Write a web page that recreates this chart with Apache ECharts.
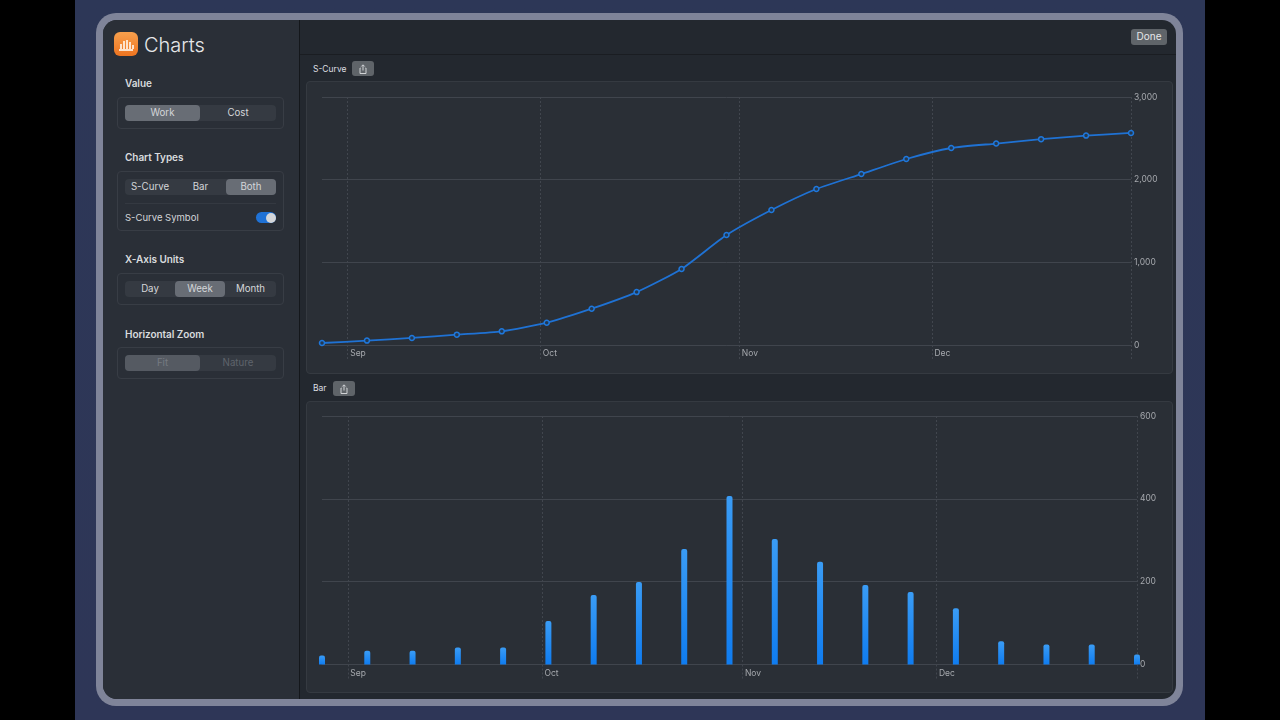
<!DOCTYPE html>
<html lang="en">
<head>
<meta charset="utf-8"/>
<title>Charts</title>
<script src="https://cdn.jsdelivr.net/npm/echarts@6/dist/echarts.min.js"></script>
<style>
  html, body { margin: 0; width: 1280px; height: 720px; overflow: hidden; background: #000; font-family: Inter, "Noto Sans", sans-serif; }
  .abs, .lbl, .box, .seg, .on, .txt { position: absolute; box-sizing: border-box; }
  #bg { left: 75px; top: 0; width: 1130px; height: 720px; background: linear-gradient(180deg, #2d3757 0%, #2e3657 100%); }
  #frame { left: 96px; top: 13px; width: 1087px; height: 693px; border-radius: 20px; background: #7f8499; }
  #win { left: 103px; top: 20px; width: 1073px; height: 679px; border-radius: 14px; background: #23282f; overflow: hidden; }
  #side { left: 0; top: 0; width: 197px; height: 679px; background: #2a2f37; border-right: 1px solid #14171b; }
  #head { left: 197px; top: 33.5px; width: 876px; height: 1px; background: #1a1d22; }
  .lbl { color: #d9dbde; font-size: 10px; font-weight: 600; line-height: 14px; letter-spacing: -0.05px; }
  .box { border: 1px solid #383d45; border-radius: 4px; }
  .seg { background: #353a42; border-radius: 4px; height: 16px; }
  .on { background: #686d75; border-radius: 4px; top: 0; height: 16px; }
  .txt { color: #d4d6d9; font-size: 9.7px; line-height: 15px; text-align: center; top: 0; height: 16px; }
  .dim { color: #5f646c; }
  .card { left: 203px; width: 867px; background: #2a2f36; border: 1px solid #353a41; border-radius: 4px; }
  .btn { background: #5f6469; border-radius: 3px; }
  .cap { color: #dcdee0; font-size: 8.5px; line-height: 12px; }
  #chart { position: absolute; left: 0; top: 0; width: 1280px; height: 720px; }
</style>
</head>
<body>
<div class="abs" id="bg"></div>
<div class="abs" id="frame"></div>
<div class="abs" id="win">
  <div class="abs" id="side">
    <div class="abs" style="left:11px;top:12px;width:24px;height:24px;border-radius:6px;background:linear-gradient(180deg,#f7a04d,#ee7420)">
      <svg width="24" height="24"><path d="M5 18h14M7 12v5M10 9v8M13 8v9M16 10v7M19 13v4" stroke="#fde3cc" stroke-width="2" fill="none"/></svg>
    </div>
    <div class="abs" style="left:41px;top:11px;color:#e6e7e9;font-size:20px;font-weight:300;line-height:28px">Charts</div>

    <div class="lbl" style="left:22px;top:56px">Value</div>
    <div class="box" style="left:14px;top:77px;width:167px;height:32px"></div>
    <div class="seg" style="left:22px;top:84.5px;width:151px">
      <div class="on" style="left:0;width:75px"></div>
      <div class="txt" style="left:0;width:75px">Work</div>
      <div class="txt" style="left:75px;width:76px">Cost</div>
    </div>

    <div class="lbl" style="left:22px;top:130px">Chart Types</div>
    <div class="box" style="left:14px;top:151px;width:167px;height:60px"></div>
    <div class="seg" style="left:22px;top:158.5px;width:151px">
      <div class="on" style="left:101px;width:50px"></div>
      <div class="txt" style="left:0;width:50px">S-Curve</div>
      <div class="txt" style="left:50px;width:51px">Bar</div>
      <div class="txt" style="left:101px;width:50px">Both</div>
    </div>
    <div class="abs" style="left:22px;top:183px;width:151px;height:1px;background:#343941"></div>
    <div class="txt" style="left:22px;top:190px;text-align:left;white-space:nowrap;font-size:9.5px">S-Curve Symbol</div>
    <div class="abs" style="left:153px;top:192px;width:20px;height:11px;border-radius:6px;background:#1f72d6"></div>
    <div class="abs" style="left:163px;top:192.5px;width:10px;height:10px;border-radius:5px;background:#d4d6d9"></div>

    <div class="lbl" style="left:22px;top:232px">X-Axis Units</div>
    <div class="box" style="left:14px;top:253px;width:167px;height:32px"></div>
    <div class="seg" style="left:22px;top:260.5px;width:151px">
      <div class="on" style="left:50px;width:50px"></div>
      <div class="txt" style="left:0;width:50px">Day</div>
      <div class="txt" style="left:50px;width:50px">Week</div>
      <div class="txt" style="left:100px;width:51px">Month</div>
    </div>

    <div class="lbl" style="left:22px;top:307px">Horizontal Zoom</div>
    <div class="box" style="left:14px;top:327px;width:167px;height:32px"></div>
    <div class="seg" style="left:22px;top:335px;width:151px">
      <div class="on" style="left:0;width:75px;background:#555a62"></div>
      <div class="txt dim" style="left:0;width:75px;color:#767b82">Fit</div>
      <div class="txt dim" style="left:75px;width:76px">Nature</div>
    </div>
  </div>
  <div class="abs" id="head"></div>
  <div class="abs btn" style="left:1028px;top:9px;width:36px;height:15.5px;color:#e6e7e9;font-size:10px;line-height:15.5px;text-align:center">Done</div>

  <div class="abs cap" style="left:210px;top:43px">S-Curve</div>
  <div class="abs btn" style="left:249px;top:41px;width:22px;height:15px">
    <svg width="22" height="15"><path d="M8.5 6H8v5.5h6V6h-.5M11 8.5V3M9.3 4.5L11 2.8l1.7 1.7" stroke="#d0d2d5" fill="none"/></svg>
  </div>
  <div class="abs card" style="top:61px;height:293px"></div>

  <div class="abs cap" style="left:210px;top:362px">Bar</div>
  <div class="abs btn" style="left:230px;top:360.5px;width:22px;height:15.5px">
    <svg width="22" height="15"><path d="M8.5 6H8v5.5h6V6h-.5M11 8.5V3M9.3 4.5L11 2.8l1.7 1.7" stroke="#d0d2d5" fill="none"/></svg>
  </div>
  <div class="abs card" style="top:381px;height:292px"></div>
</div>
<div id="chart"></div>
<script>
  var weekDates = ['2021-08-28', '2021-09-04', '2021-09-11', '2021-09-18', '2021-09-25', '2021-10-02', '2021-10-09',
    '2021-10-16', '2021-10-23', '2021-10-30', '2021-11-06', '2021-11-13', '2021-11-20', '2021-11-27', '2021-12-04',
    '2021-12-11', '2021-12-18', '2021-12-25', '2022-01-01'];
  var curveValues = [24, 53, 85, 125, 165, 270, 439, 640, 920, 1330, 1633, 1887, 2068, 2250, 2383, 2437, 2490, 2533, 2565];
  var barValues = [22, 33, 33, 41, 41, 105, 168, 199, 279, 407, 303, 248, 192, 175, 136, 56, 48, 48, 24];
  var monthLines = ['2021-09-01', '2021-10-01', '2021-11-01', '2021-12-01', '2022-01-01'];
  var monthLabels = ['2021-09-01', '2021-10-01', '2021-11-01', '2021-12-01'];
  var monthNames = ['Sep', 'Oct', 'Nov', 'Dec'];
  var curveTicks = [0, 1000, 2000, 3000];
  var barTicks = [0, 200, 400, 600];

  var gridLine = '#40454d';
  var dashLine = '#41464e';
  var labelColor = '#a6a9ae';

  function ms(d) { return Date.parse(d + 'T00:00:00Z'); }

  function xAxis(gridIndex) {
    return {
      type: 'value',
      gridIndex: gridIndex,
      min: ms(weekDates[0]),
      max: ms(weekDates[weekDates.length - 1]),
      axisLine: { show: true, onZero: false, lineStyle: { color: gridLine, width: 1 } },
      axisTick: { show: true, customValues: monthLines.map(ms), length: 14, lineStyle: { color: dashLine, type: [2, 2] } },
      splitLine: { show: true, lineStyle: { color: dashLine, type: [2, 2] } },
      axisLabel: {
        customValues: monthLabels.map(ms),
        align: 'left',
        margin: 4,
        padding: [0, 0, 0, 2.5],
        color: labelColor,
        fontFamily: 'Inter',
        fontSize: 8.5,
        formatter: function (v) { return monthNames[monthLabels.map(ms).indexOf(v)]; }
      }
    };
  }

  function yAxis(gridIndex, ticks) {
    return {
      type: 'value',
      gridIndex: gridIndex,
      position: 'right',
      min: ticks[0],
      max: ticks[ticks.length - 1],
      interval: ticks[1] - ticks[0],
      axisLine: { show: false },
      axisTick: { show: false },
      splitLine: { lineStyle: { color: gridLine, width: 1 } },
      axisLabel: { margin: 3, padding: [3, 0, 0, 0], color: labelColor, fontFamily: 'Inter', fontSize: 8.5 }
    };
  }

  var chart = echarts.init(document.getElementById('chart'), null, { renderer: 'canvas' });
  chart.setOption({
    animation: false,
    backgroundColor: 'transparent',
    grid: [
      { left: 322, top: 97, width: 809, height: 248 },
      { left: 322, top: 416, width: 815, height: 248.5 }
    ],
    xAxis: [xAxis(0), xAxis(1)],
    yAxis: [yAxis(0, curveTicks), yAxis(1, barTicks)],
    series: [
      {
        name: 'S-Curve',
        type: 'line',
        xAxisIndex: 0,
        yAxisIndex: 0,
        smooth: 0.2,
        clip: false,
        data: weekDates.map(function (d, i) { return [ms(d), curveValues[i]]; }),
        symbol: 'circle',
        symbolSize: 5,
        lineStyle: { color: '#1f72d4', width: 1.8 },
        itemStyle: { color: '#24384f', borderColor: '#1f78dc', borderWidth: 1.5 }
      },
      {
        name: 'Bar',
        type: 'bar',
        xAxisIndex: 1,
        yAxisIndex: 1,
        barWidth: 6,
        clip: false,
        data: weekDates.map(function (d, i) { return [ms(d), barValues[i]]; }),
        itemStyle: {
          borderRadius: [2, 2, 0, 0],
          color: new echarts.graphic.LinearGradient(0, 0, 0, 1, [
            { offset: 0, color: '#3a9cf5' },
            { offset: 1, color: '#0f7cf0' }
          ])
        }
      }
    ]
  });
</script>
</body>
</html>
